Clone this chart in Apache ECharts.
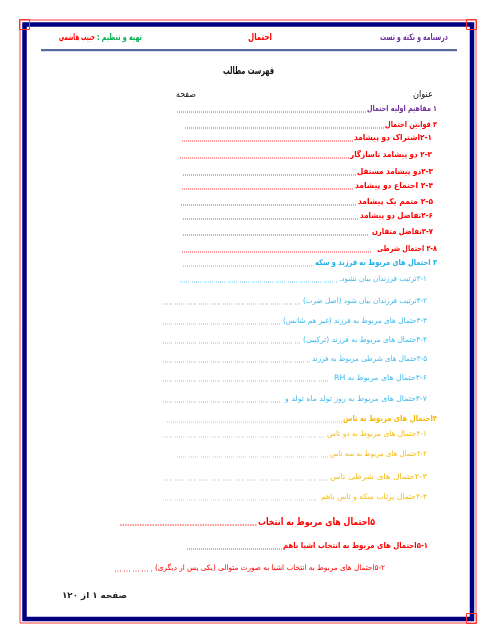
<!DOCTYPE html>
<html>
<head>
<meta charset="utf-8">
<script src="https://cdn.jsdelivr.net/npm/echarts@6.0.0/dist/echarts.min.js"></script>
<style>
html,body{margin:0;padding:0;background:#fff;}
#main{width:496px;height:642px;}
</style>
</head>
<body>
<div id="main"></div>
<script>
// ---- content (data) ----
const headerTexts = ['درسنامه و نکته و تست', 'احتمال', 'تهیه و تنظیم :', 'حبیب هاشمی'];
const pageTitle = 'فهرست مطالب';
const columnLabels = ['عنوان', 'صفحه'];
const tocTitles = [
  '۱ مفاهیم اولیه احتمال',
  '۲ قوانین احتمال',
  '۲-۱اشتراک دو پیشامد',
  '۲-۲ دو پیشامد ناسازگار',
  '۲-۳دو پیشامد مستقل',
  '۲-۴ اجتماع دو پیشامد',
  '۲-۵ متمم یک پیشامد',
  '۲-۶تفاضل دو پیشامد',
  '۲-۷تفاضل متقارن',
  '۲-۸ احتمال شرطی',
  '۳ احتمال های مربوط به فرزند و سکه',
  '۳-۱ترتیب فرزندان بیان نشود.',
  '۳-۲ترتیب فرزندان بیان شود (اصل ضرب)',
  '۳-۳حتمال های مربوط به فرزند (غیر هم شانس)',
  '۳-۴حتمال های مربوط به فرزند (ترکیبی)',
  '۳-۵حتمال های شرطی مربوط به فرزند',
  '۳-۶حتمال های مربوط به RH',
  '۳-۷حتمال های مربوط به روز تولد ماه تولد و',
  '۴احتمال های مربوط به تاس',
  '۴-۱حتمال های مربوط به دو تاس',
  '۴-۲حتمال های مربوط به سه تاس',
  '۴-۳حتمال های شرطی تاس',
  '۴-۴حتمال پرتاب سکه و تاس باهم',
  '۵احتمال های مربوط به انتخاب',
  '۵-۱احتمال های مربوط به انتخاب اشیا باهم',
  '۵-۲احتمال های مربوط به انتخاب اشیا به صورت متوالی (یکی پس از دیگری)'
];
const tocSections = [1,2,2,2,2,2,2,2,2,2,3,3,3,3,3,3,3,3,4,4,4,4,4,5,5,5];
const footerText = 'صفحه ۱ از ۱۲۰';

// ---- layout & styles (not data) ----
// [textLeftX, textRightX, centerY, dotsLeftX, dotsRightX, styleKey]
const rowLayout = [
  [367,437,109,177,366,'p'],
  [385,437,125,185,384,'r'],
  [354,432,138,182,353,'r'],
  [350,432,155,180,349,'r'],
  [357,433,172,183,356,'r'],
  [355,433,186,182,354,'r'],
  [358,433,202,181,357,'r'],
  [360,433,216,183,359,'r'],
  [372,433,232,183,368,'r'],
  [377,437,249,182,372,'r'],
  [315,437,263,183,314,'bB'],
  [339,427,279,180,337,'bn'],
  [303,427,301,163,301,'bn'],
  [283,427,321,163,281,'bn'],
  [303,427,340,163,301,'bn'],
  [312,427,359,163,310,'bn'],
  [334,427,378,163,328,'bn'],
  [285,427,399,163,283,'bn'],
  [343,437,419,167,342,'gB'],
  [327,427,434,163,325,'gn'],
  [330,427,454,177,328,'gn'],
  [330,427,477,163,328,'gn'],
  [321,427,497,163,319,'gn'],
  [258,375,522,120,257,'rBig'],
  [283,428,546,187,282,'r'],
  [155,385,568,115,153,'rn']
];
const FONT = '"DejaVu Sans", sans-serif';
const styles = {
  p:    {color:'#7030A0', dot:'#8E5CC0', font:'bold 8px ' + FONT, dash:[1,1]},
  r:    {color:'#FF0000', dot:'#FF4040', font:'bold 8px ' + FONT, dash:[1,1]},
  bB:   {color:'#22B2EC', dot:'#5CC8F2', font:'bold 8px ' + FONT, dash:[1,1]},
  bn:   {color:'#3DBBEE', dot:'#6ECEF4', font:'7.5px ' + FONT, dash:[1,1,1,1,1,1,1,1,1,3]},
  gB:   {color:'#F5B800', dot:'#F7C630', font:'bold 8px ' + FONT, dash:[1,1]},
  gn:   {color:'#F5BC10', dot:'#F8CA40', font:'7.5px ' + FONT, dash:[1,1,1,1,1,1,1,1,1,3]},
  rBig: {color:'#FF0000', dot:'#FF3030', font:'bold 10px ' + FONT, dash:[1.5,1]},
  rn:   {color:'#FF0000', dot:'#FF4040', font:'7.5px ' + FONT, dash:[1,1.5,1,1.5,1,3]}
};
// header / misc: [leftX, rightX, centerY, font, color]
const headerLayout = [
  [380,448,38,'bold 9px ' + FONT,'#7030A0'],
  [248,272,38,'bold 9.5px ' + FONT,'#FF0000'],
  [97,142,38,'bold 9px ' + FONT,'#00B050'],
  [59,95,38,'bold 9px ' + FONT,'#FF0000']
];
const titleLayout = [223,274,71,'bold 10.5px ' + FONT,'#111111'];
const columnLayout = [
  [413,433,95,'9px ' + FONT,'#111111'],
  [176,196,95,'9px ' + FONT,'#111111']
];
const footerLayout = [62,127,596,'bold 8.5px ' + FONT,'#222222'];

const rtl = s => '\u202B' + s + '\u202C';
const mctx = document.createElement('canvas').getContext('2d');
function measure(text, font){ mctx.font = font; return mctx.measureText(rtl(text)).width; }

// right-aligned text fitted horizontally between left and right
function fitText(text, left, right, y, font, fill){
  const w = measure(text, font);
  const sx = (right - left) / w;
  return {type:'text', silent:true, x:right, y:y, scaleX:sx, scaleY:1,
    style:{text: rtl(text), x:0, y:0, font:font, fill:fill,
      align:'right', verticalAlign:'middle', textAlign:'right', textVerticalAlign:'middle'}};
}

const elements = [];
// frame
elements.push({type:'rect', shape:{x:20,y:20,width:456,height:603}, style:{fill:null, stroke:'#FF4040', lineWidth:1}});
elements.push({type:'rect', shape:{x:24.5,y:24.5,width:447.5,height:594.5}, style:{fill:null, stroke:'#000080', lineWidth:4.5}});
[[19,19],[466,19],[466,613]].forEach(c => {
  elements.push({type:'rect', shape:{x:c[0]+0.5,y:c[1]+0.5,width:10,height:10}, style:{fill:null, stroke:'#FF3030', lineWidth:1}});
});
// header
headerTexts.forEach((t, i) => {
  const L = headerLayout[i];
  elements.push(fitText(t, L[0], L[1], L[2], L[3], L[4]));
});
elements.push({type:'line', shape:{x1:41,y1:50,x2:457,y2:50}, style:{stroke:'#1F3A7A', lineWidth:1.5}});
elements.push({type:'line', shape:{x1:41,y1:51.5,x2:457,y2:51.5}, style:{stroke:'#B8C4E0', lineWidth:0.6}});
// title & column labels
elements.push(fitText(pageTitle, titleLayout[0], titleLayout[1], titleLayout[2], titleLayout[3], titleLayout[4]));
columnLabels.forEach((t, i) => {
  const L = columnLayout[i];
  elements.push(fitText(t, L[0], L[1], L[2], L[3], L[4]));
});
// toc rows
tocTitles.forEach((t, i) => {
  const L = rowLayout[i];
  const st = styles[L[5]];
  elements.push({type:'line', silent:true,
    shape:{x1:L[3], y1:L[2] + 3, x2:L[4], y2:L[2] + 3},
    style:{stroke:st.dot, lineWidth:1, lineDash:st.dash}});
  elements.push(fitText(t, L[0], L[1], L[2], st.font, st.color));
});
// footer
elements.push(fitText(footerText, footerLayout[0], footerLayout[1], footerLayout[2], footerLayout[3], footerLayout[4]));

const chart = echarts.init(document.getElementById('main'), null, {renderer:'canvas', width:496, height:642});
chart.setOption({
  backgroundColor:'#ffffff',
  animation:false,
  graphic:{elements: elements}
});
</script>
</body>
</html>
